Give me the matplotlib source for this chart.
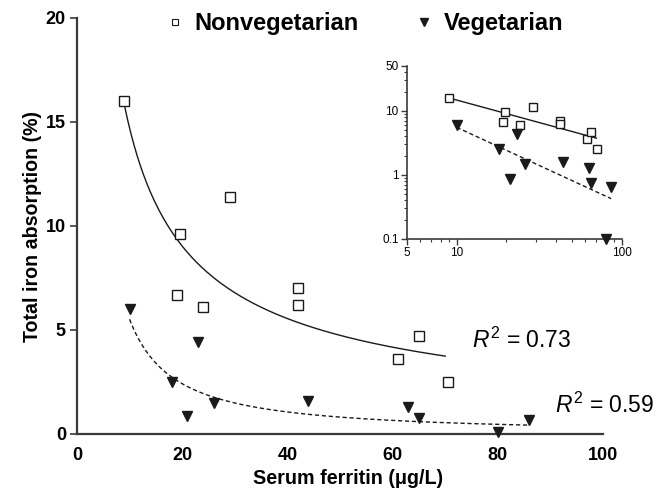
import numpy as np
import matplotlib
matplotlib.use("Agg")
import matplotlib.pyplot as plt
from matplotlib.lines import Line2D
from matplotlib.ticker import FixedLocator, NullFormatter, LogLocator

plt.rcParams['font.family'] = ['Liberation Sans', 'DejaVu Sans']
plt.rcParams['mathtext.fontset'] = 'custom'
plt.rcParams['mathtext.rm'] = 'Liberation Sans'
plt.rcParams['mathtext.it'] = 'Liberation Sans:italic'

# ---- data ----
nonveg_x = [9, 19.5, 19, 24, 29, 42, 42, 61, 65, 70.5]
nonveg_y = [16.0, 9.6, 6.7, 6.1, 11.4, 7.0, 6.2, 3.6, 4.7, 2.5]
veg_x = [10, 18, 21, 23, 26, 44, 63, 65, 80, 86]
veg_y = [6.0, 2.5, 0.85, 4.4, 1.5, 1.6, 1.3, 0.75, 0.1, 0.65]

series_labels = ["Nonvegetarian", "Vegetarian"]
r2_labels = [r"$R^2$ = 0.73", r"$R^2$ = 0.59"]
main_xticks = [0, 20, 40, 60, 80, 100]
main_yticks = [0, 5, 10, 15, 20]
inset_xticks = [5, 10, 100]
inset_xticklabels = ["5", "10", "100"]
inset_yticks = [0.1, 1, 10, 50]
inset_yticklabels = ["0.1", "1", "10", "50"]


def power_fit(x, y):
    b, lna = np.polyfit(np.log(x), np.log(y), 1)
    return np.exp(lna), b

nv_a, nv_b = power_fit(nonveg_x, nonveg_y)
v_a, v_b = power_fit(veg_x, veg_y)
nv_fx = np.linspace(min(nonveg_x), 70, 200)
v_fx = np.linspace(min(veg_x), max(veg_x), 200)
nv_fy = nv_a * nv_fx ** nv_b
v_fy = v_a * v_fx ** v_b

col = '#1a1a1a'
spcol = '#3a3a3a'
fig = plt.figure(figsize=(6.61, 4.97), dpi=100)
ax = fig.add_axes([77 / 661, 1 - 434 / 497, 526 / 661, 416 / 497])

ax.plot(nv_fx, nv_fy, '-', color=col, lw=1.0)
ax.plot(v_fx, v_fy, '--', color=col, lw=1.0, dashes=(3, 2))
ax.plot(nonveg_x, nonveg_y, 's', ms=7, mfc='white', mec=col, mew=1.0, clip_on=False, zorder=3)
ax.plot(veg_x, veg_y, 'v', ms=7.5, mfc=col, mec=col, clip_on=False, zorder=3)

ax.set_xlim(0, 100)
ax.set_ylim(0, 20)
ax.set_xticks(main_xticks)
ax.set_yticks(main_yticks)
for s in ['top', 'right']:
    ax.spines[s].set_visible(False)
for s in ['left', 'bottom']:
    ax.spines[s].set_linewidth(1.6)
    ax.spines[s].set_color(spcol)
ax.tick_params(axis='y', direction='out', length=5, width=1.2, color=spcol, labelsize=13, pad=3)
ax.tick_params(axis='x', length=0, labelsize=13, pad=9)
for lab in ax.get_xticklabels() + ax.get_yticklabels():
    lab.set_fontweight('bold')
ax.set_xlabel("Serum ferritin (μg/L)", fontsize=14.2, fontweight='bold', va='center')
ax.xaxis.set_label_coords(0.515, -0.108)
ax.set_ylabel("Total iron absorption (%)", fontsize=14.1, fontweight='bold', va='center')
ax.yaxis.set_label_coords(-0.085, 0.5)

ax.text(75.0, 4.5, r2_labels[0], fontsize=16.5, va='center', ha='left')
ax.text(90.9, 1.37, r2_labels[1], fontsize=16.5, va='center', ha='left', clip_on=False)

handles = [Line2D([], [], ls='none', marker='s', ms=5, mfc='white', mec=col, mew=0.8),
           Line2D([], [], ls='none', marker='v', ms=5.5, mfc=col, mec=col)]
fig.legend(handles, series_labels, loc='center', bbox_to_anchor=(0.552, 0.952), ncol=2,
           frameon=False, prop={'weight': 'bold', 'size': 17}, handlelength=0.7,
           handletextpad=0.5, columnspacing=2.4, borderpad=0)

# ---- inset ----
ins = fig.add_axes([407 / 661, 1 - 239 / 497, 215 / 661, 173 / 497])
ins.plot(nv_fx, nv_fy, '-', color=col, lw=1.0)
ins.plot(v_fx, v_fy, '--', color=col, lw=1.0, dashes=(3, 2))
ins.plot(nonveg_x, nonveg_y, 's', ms=5.5, mfc='white', mec=col, mew=1.0, clip_on=False, zorder=3)
ins.plot(veg_x, veg_y, 'v', ms=6.5, mfc=col, mec=col, clip_on=False, zorder=3)
ins.set_xscale('log')
ins.set_yscale('log')
ins.set_xlim(5, 100)
ins.set_ylim(0.1, 50)
ins.xaxis.set_major_locator(FixedLocator(inset_xticks))
ins.set_xticklabels(inset_xticklabels)
ins.yaxis.set_major_locator(FixedLocator(inset_yticks))
ins.set_yticklabels(inset_yticklabels)
ins.xaxis.set_minor_locator(LogLocator(base=10, subs=np.arange(2, 10)))
ins.yaxis.set_minor_locator(LogLocator(base=10, subs=np.arange(2, 10)))
ins.xaxis.set_minor_formatter(NullFormatter())
ins.yaxis.set_minor_formatter(NullFormatter())
for s in ['top', 'right']:
    ins.spines[s].set_visible(False)
for s in ['left', 'bottom']:
    ins.spines[s].set_linewidth(1.2)
    ins.spines[s].set_color(spcol)
ins.tick_params(which='major', direction='out', length=4, width=1.0, color=spcol, labelsize=8.5, pad=2)
ins.tick_params(which='minor', direction='out', length=2, width=0.8, color=spcol)

fig.savefig("out.png", dpi=100)
